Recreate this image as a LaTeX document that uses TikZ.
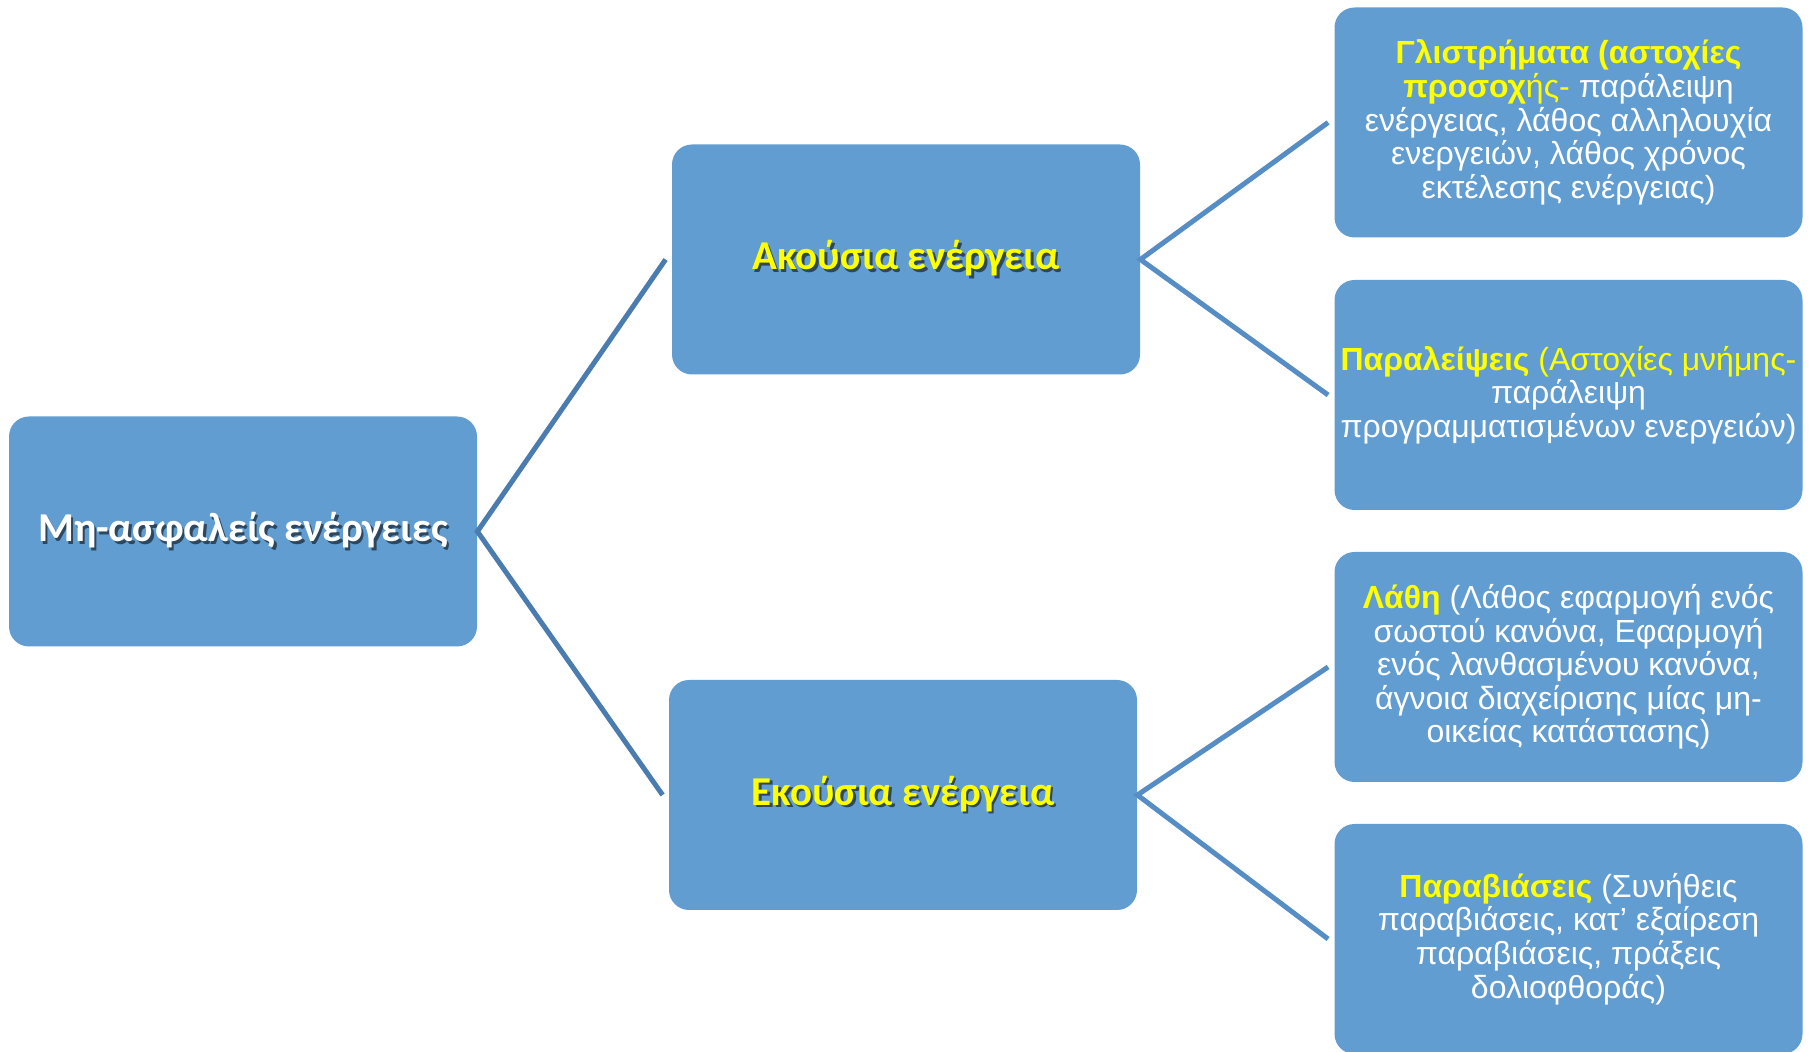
\documentclass[tikz,border=0pt]{standalone}
\usepackage{fontspec}
\setmainfont{Liberation Sans}
\newfontfamily\titlefont{Carlito}
\usetikzlibrary{positioning}
\definecolor{boxblue}{RGB}{98,157,209}
\definecolor{leftline}{RGB}{74,124,175}
\definecolor{rightline}{RGB}{86,141,196}
\definecolor{hiyellow}{RGB}{255,255,0}
\newcommand{\shadowed}[2]{\makebox[0pt][l]{\hspace{1.2pt}\raisebox{-1.2pt}{\textcolor{boxblue!45!black}{#2}}}\textcolor{#1}{#2}}
\tikzset{every picture/.style={/utils/exec={\fontsize{16}{16.8}\selectfont}}}

\begin{document}
\begin{tikzpicture}[x=0.5pt,y=-0.5pt]
  \tikzstyle{block} = [rectangle, rounded corners=10pt, fill=boxblue, draw=none, minimum width=234pt, minimum height=115pt, inner sep=0pt, text centered, align=center, text=white]
  \tikzstyle{title} = [block, font=\titlefont\bfseries\fontsize{20.5}{24}\selectfont]
  \tikzstyle{branch} = [line width=2.5pt, draw=leftline]
  \tikzstyle{twig} = [line width=2.5pt, draw=rightline]

  \useasboundingbox (0,0) rectangle (1811,1052);

  \node (root) [title] at (243,531.5) {\shadowed{white}{Μη-ασφαλείς ενέργειες}};
  \node (ack) [title] at (906,259.5) {\shadowed{hiyellow}{Ακούσια ενέργεια}};
  \node (eko) [title] at (903,795) {\shadowed{hiyellow}{Εκούσια ενέργεια}};

  \node (slip) [block] at (1568.5,122.5) {\textcolor{hiyellow}{\textbf{Γλιστρήματα (αστοχίες}}\\
    \textcolor{hiyellow}{\textbf{προσοχ}ής-} παράλειψη\\
    ενέργειας, λάθος αλληλουχία\\
    ενεργειών, λάθος χρόνος\\
    εκτέλεσης ενέργειας)};
  \node (lapse) [block] at (1568.5,395) {\textcolor{hiyellow}{\textbf{Παραλείψεις} (Αστοχίες μνήμης-}\\
    παράλειψη\\
    προγραμματισμένων ενεργειών)};
  \node (mist) [block] at (1568.5,667) {\textcolor{hiyellow}{\textbf{Λάθη}} (Λάθος εφαρμογή ενός\\
    σωστού κανόνα, Εφαρμογή\\
    ενός λανθασμένου κανόνα,\\
    άγνοια διαχείρισης μίας μη-\\
    οικείας κατάστασης)};
  \node (viol) [block] at (1568.5,939) {\textcolor{hiyellow}{\textbf{Παραβιάσεις}} (Συνήθεις\\
    παραβιάσεις, κατ’ εξαίρεση\\
    παραβιάσεις, πράξεις\\
    δολιοφθοράς)};

  \draw [branch] ([xshift=-3pt]ack.west) -- (root.east) -- ([xshift=-3pt]eko.west);
  \draw [twig] ([xshift=-3pt]slip.west) -- (ack.east) -- ([xshift=-3pt]lapse.west);
  \draw [twig] ([xshift=-3pt]mist.west) -- (eko.east) -- ([xshift=-3pt]viol.west);
\end{tikzpicture}
\end{document}
